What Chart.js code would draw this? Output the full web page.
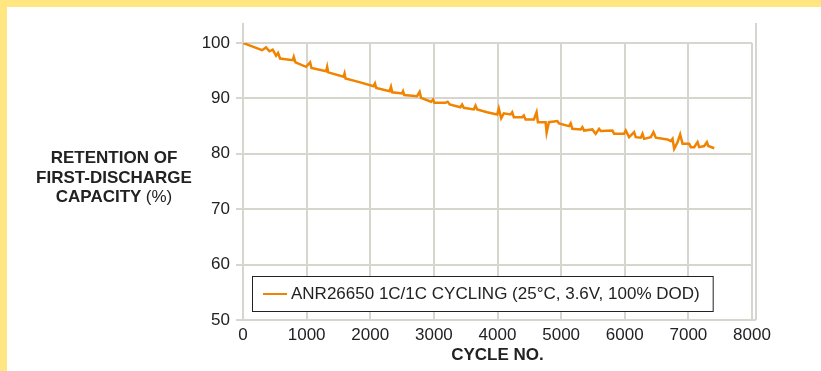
<!DOCTYPE html>
<html>
<head>
<meta charset="utf-8">
<script src="https://cdn.jsdelivr.net/npm/chart.js@4"></script>
<style>
  body { margin: 0; background: #fff; }
  #wrap { position: relative; width: 821px; height: 371px; overflow: hidden; }
  #c { position: absolute; left: 0; top: 0; }
  .band { position: absolute; background: #ffe680; z-index: 2; }
  #ytitle {
    position: absolute; left: 30px; top: 148px; width: 168px;
    font: bold 17px "Liberation Sans", Arial, sans-serif; line-height: 19.5px;
    text-align: center; color: #222;
  }
  #ytitle span { font-weight: normal; }
</style>
</head>
<body>
<div id="wrap">
  <div class="band" style="left:0;top:0;width:821px;height:7px"></div>
  <div class="band" style="left:0;top:0;width:7px;height:371px"></div>
  <canvas id="c" width="821" height="371"></canvas>
  <div id="ytitle">RETENTION OF<br>FIRST-DISCHARGE<br>CAPACITY <span>(%)</span></div>
</div>
<script>
// series
const seriesLabel = 'ANR26650 1C/1C CYCLING (25°C, 3.6V, 100% DOD)';
const cycles = [0, 300, 362, 415, 467, 520, 551, 583, 783, 798, 824, 992, 1055, 1076,
    1307, 1323, 1339, 1580, 1596, 1611, 1843, 2052, 2074, 2094, 2304, 2326, 2346,
    2499, 2515, 2535, 2735, 2776, 2798, 2956, 2987, 3008, 3181, 3217, 3249, 3417,
    3444, 3470, 3627, 3654, 3680, 3837, 3995, 4020, 4058, 4099, 4205, 4231, 4257,
    4389, 4414, 4441, 4572, 4614, 4635, 4756, 4772, 4808, 4940, 4966, 5123, 5150,
    5176, 5307, 5334, 5360, 5491, 5543, 5596, 5622, 5806, 5832, 5989, 6016, 6068,
    6121, 6147, 6173, 6252, 6279, 6304, 6409, 6452, 6488, 6672, 6724, 6751, 6777,
    6830, 6871, 6909, 7013, 7039, 7091, 7144, 7170, 7249, 7291, 7313, 7407];
const retention = [100, 98.7, 99.2, 98.5, 98.8, 97.7, 98.2, 97.2, 96.9, 97.5, 96.5, 95.7, 96.5, 95.5,
    94.9, 95.7, 94.7, 93.9, 94.5, 93.6, 92.9, 92.2, 92.7, 91.9, 91.3, 92.1, 91.1,
    90.9, 91.3, 90.6, 90.4, 91.2, 90.1, 89.4, 89.8, 89.2, 89.2, 89.4, 88.9, 88.4,
    88.9, 88.3, 88.0, 88.7, 88.0, 87.5, 87.1, 88.2, 86.4, 87.3, 87.1, 87.5, 86.6,
    86.6, 86.9, 86.2, 86.2, 87.5, 85.7, 85.7, 83.8, 85.7, 85.9, 85.5, 85.0, 85.5,
    84.5, 84.4, 84.8, 84.2, 84.4, 83.6, 84.5, 84.1, 84.2, 83.6, 83.6, 84.2, 83.0,
    83.6, 83.9, 83.0, 82.9, 83.6, 82.7, 83.0, 83.9, 82.9, 82.6, 82.3, 82.7, 80.9,
    82.1, 83.5, 81.8, 81.8, 81.2, 81.2, 82.1, 81.2, 81.4, 82.1, 81.4, 81.0];

const xTicks = [0, 1000, 2000, 3000, 4000, 5000, 6000, 7000, 8000];
const yTicks = [50, 60, 70, 80, 90, 100];

const FONT = '"Liberation Sans", Arial, sans-serif';
const ORANGE = '#f08300';
const GRID = '#d6d6cf';

// outer frame lines poke above the 100 line
const frameTop = {
    id: 'frameTop',
    beforeDatasetsDraw(chart) {
        const { ctx, chartArea } = chart;
        const xs = [chart.scales.x.getPixelForValue(0), chart.scales.x.getPixelForValue(8000) + 4];
        ctx.save();
        ctx.strokeStyle = GRID;
        ctx.lineWidth = 2;
        xs.forEach(x => {
            ctx.beginPath();
            ctx.moveTo(x, chartArea.top - 20);
            ctx.lineTo(x, chartArea.bottom);
            ctx.stroke();
        });
        ctx.beginPath();
        ctx.moveTo(xs[0], chartArea.bottom);
        ctx.lineTo(xs[1], chartArea.bottom);
        ctx.stroke();
        ctx.restore();
    }
};

// boxed legend inside the plot, bottom left
const boxLegend = {
    id: 'boxLegend',
    afterDraw(chart) {
        const { ctx, chartArea } = chart;
        const ds = chart.data.datasets[0];
        ctx.save();
        ctx.font = '17px ' + FONT;
        const tw = ctx.measureText(ds.label).width;
        const x = chartArea.left + 9, y = chartArea.bottom - 44;
        const w = tw + 52, h = 35;
        ctx.fillStyle = '#fff';
        ctx.fillRect(x, y, w, h);
        ctx.strokeStyle = '#222';
        ctx.lineWidth = 1;
        ctx.strokeRect(x + 0.5, y + 0.5, w, h);
        ctx.strokeStyle = ds.borderColor;
        ctx.lineWidth = 2;
        ctx.beginPath();
        ctx.moveTo(x + 11, y + 18);
        ctx.lineTo(x + 35, y + 18);
        ctx.stroke();
        ctx.fillStyle = '#222';
        ctx.textBaseline = 'middle';
        ctx.fillText(ds.label, x + 39, y + 18);
        ctx.restore();
    }
};

new Chart(document.getElementById('c'), {
    type: 'line',
    data: {
        datasets: [{
            label: seriesLabel,
            data: cycles.map((c, i) => ({ x: c, y: retention[i] })),
            borderColor: ORANGE,
            borderWidth: 2.5,
            pointRadius: 0,
            tension: 0
        }]
    },
    options: {
        responsive: false,
        animation: false,
        layout: { padding: { top: 43, right: 69, left: 0, bottom: 0 } },
        plugins: { legend: { display: false }, tooltip: { enabled: false } },
        scales: {
            x: {
                type: 'linear',
                min: 0,
                max: 8000,
                afterBuildTicks: s => { s.ticks = xTicks.map(v => ({ value: v })); },
                afterFit: s => { s.height = 51; },
                ticks: {
                    color: '#222', font: { family: FONT, size: 17 }, padding: 5, maxRotation: 0,
                    callback: v => String(v)
                },
                grid: { color: GRID, lineWidth: 2, drawTicks: false },
                border: { display: false },
                title: {
                    display: true,
                    text: 'CYCLE NO.',
                    color: '#222',
                    font: { family: FONT, size: 17, weight: 'bold' },
                    padding: { top: 0, bottom: 5 }
                }
            },
            y: {
                min: 50,
                max: 100,
                afterBuildTicks: s => { s.ticks = yTicks.map(v => ({ value: v })); },
                afterFit: s => { s.width = 243; },
                ticks: { color: '#222', font: { family: FONT, size: 17 }, padding: 6 },
                grid: { color: GRID, lineWidth: 2, tickLength: 7 },
                border: { display: false }
            }
        }
    },
    plugins: [frameTop, boxLegend]
});
</script>
</body>
</html>
